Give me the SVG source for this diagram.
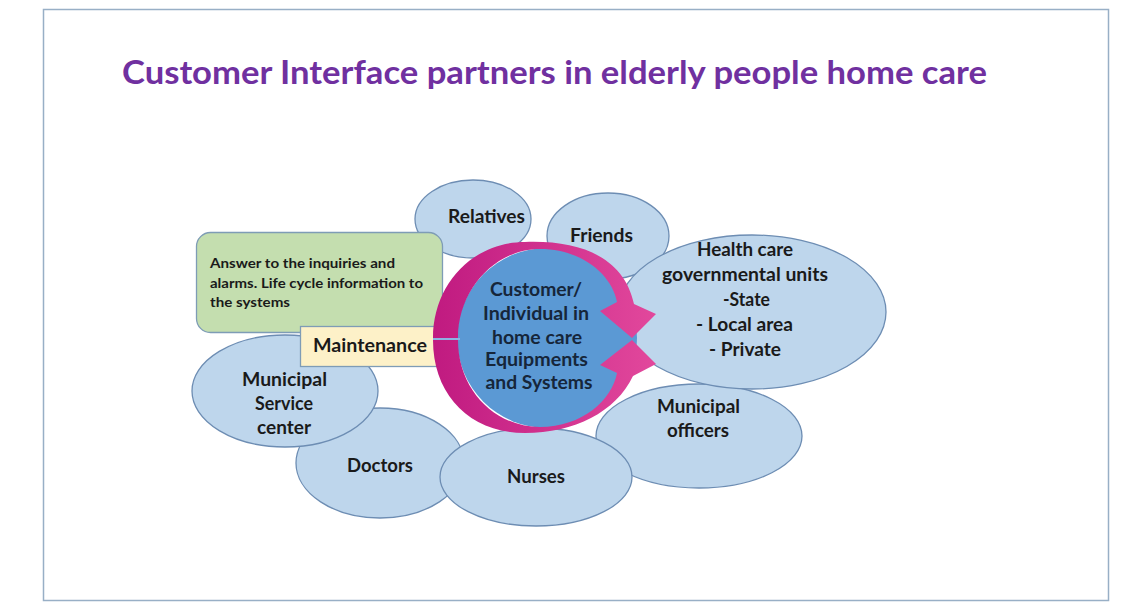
<svg xmlns="http://www.w3.org/2000/svg" width="1135" height="602" viewBox="0 0 1135 602">
<defs>
<style>
.ell{fill:#bed6ec;stroke:#6d8db3;stroke-width:1.3}
.lbl{font-family:Lato,"Open Sans","Liberation Sans",sans-serif;font-weight:700;font-size:18px;fill:#1a1a1a;text-anchor:middle}
.small{font-family:Lato,"Open Sans","Liberation Sans",sans-serif;font-weight:700;font-size:13.5px;fill:#1a1a1a}
.ctr{font-family:Lato,"Open Sans","Liberation Sans",sans-serif;font-weight:700;font-size:18.5px;fill:#16263a;text-anchor:middle}
.arr{fill:url(#mag)}
</style>
<linearGradient id="mag" x1="0" y1="0" x2="1" y2="0">
<stop offset="0" stop-color="#c01a80"/>
<stop offset="1" stop-color="#e2489c"/>
</linearGradient>
</defs>
<rect x="0" y="0" width="1135" height="602" fill="#ffffff"/>
<rect x="43.5" y="9.5" width="1065" height="591" fill="#ffffff" stroke="#98afc6" stroke-width="1.5"/>
<text x="122" y="84" font-family="Lato,'Open Sans','Liberation Sans',sans-serif" font-weight="700" font-size="33" fill="#7030a0" textLength="865" lengthAdjust="spacingAndGlyphs">Customer Interface partners in elderly people home care</text>

<g id="friends"><ellipse class="ell" cx="608" cy="236" rx="61" ry="43"/><text class="lbl" x="601.5" y="242" textLength="63" lengthAdjust="spacingAndGlyphs">Friends</text></g>
<g id="relatives"><ellipse class="ell" cx="473" cy="219" rx="58" ry="39"/><text class="lbl" x="486.5" y="223" textLength="77" lengthAdjust="spacingAndGlyphs">Relatives</text></g>
<g id="municipal-officers"><ellipse class="ell" cx="699" cy="436" rx="103" ry="52"/><text class="lbl" x="698.5" y="413" textLength="83" lengthAdjust="spacingAndGlyphs">Municipal</text><text class="lbl" x="698" y="437" textLength="62" lengthAdjust="spacingAndGlyphs">officers</text></g>
<g id="doctors"><ellipse class="ell" cx="380" cy="463" rx="84" ry="55"/><text class="lbl" x="380" y="472" textLength="66" lengthAdjust="spacingAndGlyphs">Doctors</text></g>
<g id="nurses"><ellipse class="ell" cx="536" cy="477" rx="96" ry="49"/><text class="lbl" x="536" y="483" textLength="58" lengthAdjust="spacingAndGlyphs">Nurses</text></g>
<g id="health-care"><ellipse class="ell" cx="752" cy="312" rx="134" ry="77"/>
<text class="lbl" x="745" y="256" textLength="96" lengthAdjust="spacingAndGlyphs">Health care</text>
<text class="lbl" x="745" y="281" textLength="166" lengthAdjust="spacingAndGlyphs">governmental units</text>
<text class="lbl" x="746.5" y="306" textLength="47" lengthAdjust="spacingAndGlyphs">-State</text>
<text class="lbl" x="744.5" y="331" textLength="97" lengthAdjust="spacingAndGlyphs">- Local area</text>
<text class="lbl" x="745" y="356" textLength="72" lengthAdjust="spacingAndGlyphs">- Private</text></g>
<g id="municipal-service"><ellipse class="ell" cx="285" cy="391" rx="93" ry="56"/>
<text class="lbl" x="284.5" y="386" textLength="85" lengthAdjust="spacingAndGlyphs">Municipal</text>
<text class="lbl" x="284" y="410" textLength="58" lengthAdjust="spacingAndGlyphs">Service</text>
<text class="lbl" x="284" y="434" textLength="54" lengthAdjust="spacingAndGlyphs">center</text></g>
<g id="answer-box"><rect x="196.5" y="232.5" width="246" height="100" rx="14" fill="#c4deaf" stroke="#7e9cb6" stroke-width="1.3"/>
<text class="small" x="210" y="268" textLength="185" lengthAdjust="spacingAndGlyphs">Answer to the inquiries and</text>
<text class="small" x="210" y="288" textLength="213" lengthAdjust="spacingAndGlyphs">alarms. Life cycle information to</text>
<text class="small" x="210" y="307" textLength="80" lengthAdjust="spacingAndGlyphs">the systems</text></g>
<g id="maintenance"><rect x="300.5" y="326.5" width="140" height="40" fill="#fdf1c8" stroke="#7e9cb6" stroke-width="1.3"/>
<text class="lbl" x="370" y="352" font-size="19" textLength="114" lengthAdjust="spacingAndGlyphs">Maintenance</text></g>

<g id="customer">
<circle cx="547" cy="338" r="90" fill="#5b99d4"/>
<line x1="433" y1="339" x2="460" y2="339" stroke="#8db3e2" stroke-width="2"/>
<g id="connectors">
<path class="arr" d="M433,338 C433,285 472,242 525,242 C582,240 624,258 634,304 L656,314 L632,338 L600,311 L617,302 C612,275 582,249 540,249 C495,249 458,290 458,338 Z"/>
<path class="arr" d="M433,340 C433,395 470,433 525,433 C574,433 616,412 633,376 L656,364 L632,340 L600,365 L617,373 C612,400 582,427 540,427 C495,427 458,390 458,340 Z"/>
</g>
<text class="ctr" x="536" y="296" textLength="92" lengthAdjust="spacingAndGlyphs">Customer/</text>
<text class="ctr" x="536" y="320" textLength="106" lengthAdjust="spacingAndGlyphs">Individual in</text>
<text class="ctr" x="537" y="344" textLength="90" lengthAdjust="spacingAndGlyphs">home care</text>
<text class="ctr" x="536.5" y="366" textLength="103" lengthAdjust="spacingAndGlyphs">Equipments</text>
<text class="ctr" x="539" y="389" textLength="107" lengthAdjust="spacingAndGlyphs">and Systems</text>
</g>
</svg>
